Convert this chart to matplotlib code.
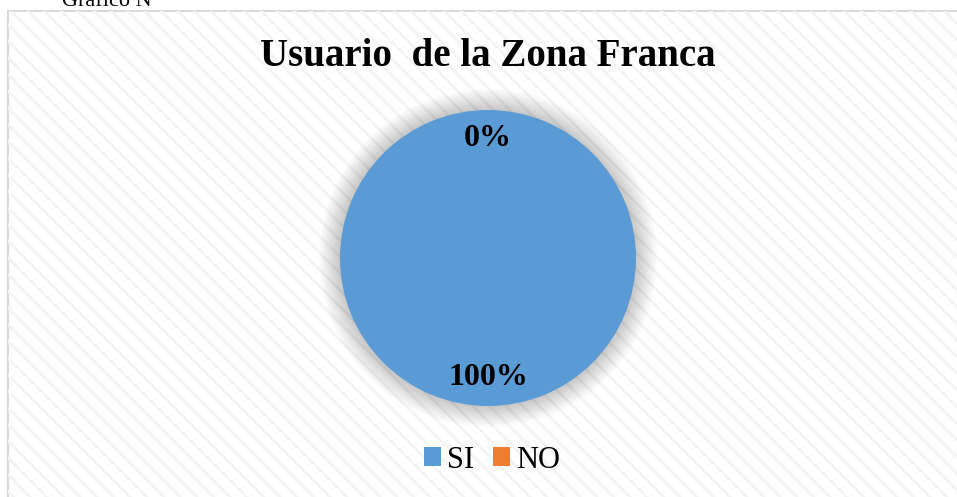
import matplotlib.pyplot as plt
from matplotlib.patches import Rectangle, Circle

categories = ['SI', 'NO']
values = [100, 0]
colors = ['#5B9BD5', '#ED7D31']
title = 'Usuario  de la Zona Franca'

plt.rcParams['font.family'] = ['Liberation Serif', 'DejaVu Serif']
plt.rcParams['hatch.linewidth'] = 2.0

fig = plt.figure(figsize=(9.57, 4.97), dpi=100)

# chart area: light border + diagonal stripes
frame = Rectangle((8 / 957, -0.01), 1.0, 1 - 11 / 497 + 0.01, transform=fig.transFigure,
                  facecolor='white', edgecolor='#d9d9d9', linewidth=1.5, zorder=-2)
stripes = Rectangle((8 / 957, -0.01), 1.0, 1 - 11 / 497 + 0.01, transform=fig.transFigure,
                    facecolor='none', edgecolor='#f4f4f4', hatch='\\\\', linewidth=0, zorder=-1)
fig.patches.extend([frame, stripes])

# cut-off caption above the chart
fig.text(62 / 957, 1 - 6 / 497, 'Gráfico N°', fontsize=16, va='baseline', ha='left')

fig.text(488 / 957, 1 - 57 / 497, title, fontsize=28, fontweight='bold',
         ha='center', va='center')

ax = fig.add_axes([(488 - 148) / 957, 1 - (258 + 148) / 497, 296 / 957, 296 / 497], zorder=2)
ax.set_aspect('equal')
ax.axis('off')

# soft shadow round the pie
for i in range(18):
    r = 1.0 + 0.008 * (i + 1)
    ax.add_patch(Circle((0, 0.0), r, facecolor='black', edgecolor='none',
                        alpha=0.011, zorder=0, clip_on=False))

wedges, texts, autotexts = ax.pie(values, colors=colors, startangle=90, counterclock=False,
                                  autopct='%1.0f%%', pctdistance=0.81, radius=1.0,
                                  wedgeprops=dict(linewidth=0),
                                  textprops=dict(fontsize=23, fontweight='bold', color='black'))
for w in wedges:
    w.set_zorder(2)
for t in autotexts:
    t.set_zorder(3)
ax.set_xlim(-1, 1)
ax.set_ylim(-1, 1)

fig.legend(wedges, categories, loc='center', bbox_to_anchor=(492 / 957, 1 - 460 / 497),
           ncol=2, frameon=False, fontsize=22, handlelength=0.55, handleheight=0.55,
           handletextpad=0.2, columnspacing=0.6)

fig.savefig('out.png', dpi=100)
